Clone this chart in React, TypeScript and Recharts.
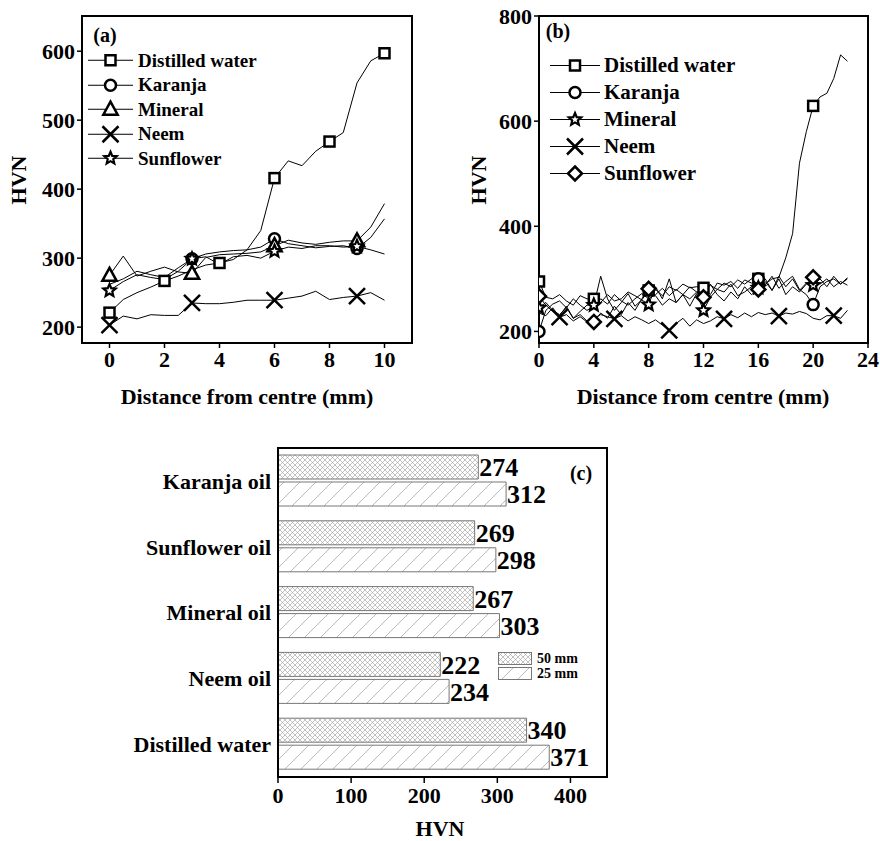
import React from "react";
import { LineChart, Line, XAxis, YAxis, BarChart, Bar, LabelList, Legend, ReferenceArea } from "recharts";

const FONT = "'Liberation Serif', 'Times New Roman', Times, serif";

// ---- panel (a): distance 0-10 mm ----
const xA = [0, 0.5, 1, 1.5, 2, 2.5, 3, 3.5, 4, 4.5, 5, 5.5, 6, 6.5, 7, 7.5, 8, 8.5, 9, 9.5, 10];
const distA = [221, 240, 250, 258, 267, 274, 283, 290, 293, 298, 312, 340, 416, 441, 434, 455, 469, 482, 554, 586, 597];
const karA = [262, 270, 281, 276, 272, 286, 299, 306, 309, 311, 312, 316, 328, 321, 318, 315, 317, 318, 314, 330, 357];
const minA = [275, 303, 274, 281, 287, 280, 278, 301, 305, 306, 307, 309, 318, 326, 322, 320, 323, 325, 325, 345, 379];
const neemA = [203, 216, 212, 218, 217, 217, 235, 234, 234, 236, 239, 239, 239, 242, 245, 252, 240, 243, 245, 250, 239];
const sunA = [253, 266, 276, 272, 269, 281, 299, 302, 291, 302, 304, 300, 310, 316, 314, 318, 318, 316, 317, 312, 306];
const distAMarks = [0, 2, 4, 6, 8, 10];
const karAMarks = [3, 6, 9];
const minAMarks = [0, 3, 6, 9];
const neemAMarks = [0, 3, 6, 9];
const sunAMarks = [0, 3, 6, 9];
const xTicksA = [0, 2, 4, 6, 8, 10];
const yTicksA = [200, 300, 400, 500, 600];

// ---- panel (b): distance 0-22.5 mm ----
const xB = [0, 0.5, 1, 1.5, 2, 2.5, 3, 3.5, 4, 4.5, 5, 5.5, 6, 6.5, 7, 7.5, 8, 8.5, 9, 9.5, 10, 10.5, 11, 11.5,
  12, 12.5, 13, 13.5, 14, 14.5, 15, 15.5, 16, 16.5, 17, 17.5, 18, 18.5, 19, 19.5, 20, 20.5, 21, 21.5, 22, 22.5];
const distB = [295, 265, 262, 270, 258, 250, 268, 262, 262, 255, 270, 258, 262, 275, 268, 260, 278, 280, 268, 285,
  278, 290, 283, 285, 283, 270, 292, 288, 295, 282, 298, 292, 300, 290, 300, 303, 340, 386, 520, 580,
  629, 646, 653, 681, 726, 714];
const karB = [200, 240, 252, 258, 245, 262, 250, 240, 248, 262, 252, 270, 258, 250, 262, 272, 262, 270, 282, 268,
  280, 270, 285, 275, 278, 288, 280, 292, 285, 298, 290, 300, 300, 288, 305, 282, 295, 305, 280, 270,
  251, 285, 295, 300, 290, 302];
const minB = [245, 255, 240, 232, 245, 225, 238, 250, 250, 305, 262, 240, 255, 272, 248, 260, 251, 285, 262, 300,
  255, 270, 248, 272, 240, 265, 280, 275, 290, 268, 275, 285, 283, 300, 278, 305, 285, 300, 278, 292,
  288, 300, 285, 305, 290, 300];
const neemB = [235, 230, 245, 227, 232, 220, 228, 218, 225, 232, 228, 224, 230, 220, 228, 222, 215, 222, 212, 202,
  215, 225, 210, 222, 215, 220, 228, 224, 232, 226, 235, 228, 236, 232, 235, 229, 235, 233, 238, 234,
  225, 222, 230, 230, 225, 240];
const sunB = [267, 250, 238, 230, 248, 225, 232, 220, 218, 235, 225, 248, 232, 255, 240, 262, 281, 268, 250, 262,
  255, 270, 262, 275, 265, 290, 270, 258, 275, 262, 285, 270, 280, 295, 278, 300, 270, 285, 275, 290,
  303, 290, 300, 285, 295, 288];
const distBMarks = [0, 4, 8, 12, 16, 20];
const karBMarks = [0, 16, 20];
const minBMarks = [0, 4, 8, 12, 16, 20];
const neemBMarks = [1.5, 5.5, 9.5, 13.5, 17.5, 21.5];
const sunBMarks = [0, 4, 8, 12, 16, 20];
const xTicksB = [0, 4, 8, 12, 16, 20, 24];
const yTicksB = [200, 400, 600, 800];

// ---- panel (c): bars ----
const oils = ["Karanja oil", "Sunflower oil", "Mineral oil", "Neem oil", "Distilled water"];
const hv50 = [274, 269, 267, 222, 340];
const hv25 = [312, 298, 303, 234, 371];
const xTicksC = [0, 100, 200, 300, 400];

const toPts = (xs: number[], ys: number[], marks: number[]) =>
  xs.map((x, i) => ({ x, y: ys[i], m: marks.includes(x) }));

const barData = oils.map((name, i) => ({ name, a: hv50[i], b: hv25[i] }));

function Marker({ shape, cx, cy, s }: { shape: string; cx: number; cy: number; s: number }) {
  const st = { fill: "#fff", stroke: "#000", strokeWidth: 2.5 };
  const h = s / 2;
  if (shape === "square") return <rect x={cx - h} y={cy - h} width={s} height={s} {...st} />;
  if (shape === "circle") return <circle cx={cx} cy={cy} r={h} {...st} />;
  if (shape === "triangle")
    return (
      <polygon
        points={`${cx},${cy - s * 0.58} ${cx - s * 0.55},${cy + s * 0.42} ${cx + s * 0.55},${cy + s * 0.42}`}
        {...st}
      />
    );
  if (shape === "diamond")
    return <polygon points={`${cx},${cy - h} ${cx + h},${cy} ${cx},${cy + h} ${cx - h},${cy}`} {...st} />;
  if (shape === "cross")
    return (
      <path
        d={`M${cx - h},${cy - h}L${cx + h},${cy + h}M${cx + h},${cy - h}L${cx - h},${cy + h}`}
        stroke="#000"
        strokeWidth={2.5}
        fill="none"
      />
    );
  // star
  const pts: string[] = [];
  for (let k = 0; k < 10; k++) {
    const a = ((-90 + k * 36) * Math.PI) / 180;
    const r = k % 2 === 0 ? h : h * 0.45;
    pts.push(`${cx + r * Math.cos(a)},${cy + r * Math.sin(a)}`);
  }
  return <polygon points={pts.join(" ")} {...st} strokeWidth={2.2} />;
}

const dotFor = (shape: string, s: number) => (p: any) => {
  if (!p.payload || !p.payload.m) return <g key={`e${p.index}`} />;
  return (
    <g key={`d${p.index}`}>
      <Marker shape={shape} cx={p.cx} cy={p.cy} s={s} />
    </g>
  );
};

type Item = { name: string; shape: string; s: number };

function LineLegend({ items, rowH, lineW, gap, fontSize }: { items: Item[]; rowH: number; lineW: number; gap: number; fontSize: number }) {
  return (
    <div style={{ fontFamily: FONT, fontWeight: 700, fontSize, color: "#000" }}>
      {items.map((it) => (
        <div key={it.name} style={{ display: "flex", alignItems: "center", height: rowH }}>
          <svg width={lineW} height={rowH} style={{ overflow: "visible" }}>
            <line x1={0} x2={lineW} y1={rowH / 2} y2={rowH / 2} stroke="#000" strokeWidth={1} />
            <Marker shape={it.shape} cx={lineW / 2} cy={rowH / 2} s={it.s} />
          </svg>
          <span style={{ marginLeft: gap, lineHeight: 1, whiteSpace: "nowrap" }}>{it.name}</span>
        </div>
      ))}
    </div>
  );
}

const legendA: Item[] = [
  { name: "Distilled water", shape: "square", s: 10 },
  { name: "Karanja", shape: "circle", s: 11 },
  { name: "Mineral", shape: "triangle", s: 13 },
  { name: "Neem", shape: "cross", s: 16 },
  { name: "Sunflower", shape: "star", s: 13 },
];
const legendB: Item[] = [
  { name: "Distilled water", shape: "square", s: 10 },
  { name: "Karanja", shape: "circle", s: 11 },
  { name: "Mineral", shape: "star", s: 13 },
  { name: "Neem", shape: "cross", s: 16 },
  { name: "Sunflower", shape: "diamond", s: 14 },
];

const tickStyle = { fill: "#000", fontFamily: FONT, fontWeight: 700, fontSize: 22 };
const axisLine = { stroke: "#000", strokeWidth: 2 };
const tickLine = { stroke: "#000", strokeWidth: 1.5 };

const txt = (left: number, top: number, s: string, size = 22, rotate = false) => (
  <div
    style={{
      position: "absolute",
      left,
      top,
      transform: `translate(-50%, -50%)${rotate ? " rotate(-90deg)" : ""}`,
      fontFamily: FONT,
      fontWeight: 700,
      fontSize: size,
      whiteSpace: "nowrap",
      lineHeight: 1,
      color: "#000",
    }}
  >
    {s}
  </div>
);

function PanelA() {
  const series = [
    { d: toPts(xA, distA, distAMarks), shape: "square", s: 10 },
    { d: toPts(xA, karA, karAMarks), shape: "circle", s: 11 },
    { d: toPts(xA, minA, minAMarks), shape: "triangle", s: 13 },
    { d: toPts(xA, neemA, neemAMarks), shape: "cross", s: 16 },
    { d: toPts(xA, sunA, sunAMarks), shape: "star", s: 13 },
  ];
  return (
    <div style={{ position: "absolute", left: 0, top: 0 }}>
      <LineChart width={440} height={420} margin={{ top: 16, right: 28, left: 0, bottom: 17 }}>
        <XAxis dataKey="x" type="number" domain={[-1, 11]} ticks={xTicksA} tick={tickStyle}
          axisLine={axisLine} tickLine={tickLine} tickSize={5} tickMargin={3} height={60} allowDataOverflow />
        <YAxis type="number" domain={[177, 651]} ticks={yTicksA} tick={tickStyle} axisLine={axisLine}
          tickLine={tickLine} tickSize={5} tickMargin={2} width={82} allowDataOverflow />
        <ReferenceArea x1={-1} x2={11} y1={177} y2={651} fill="none" stroke="#000" strokeWidth={2} ifOverflow="visible" />
        {series.map((sr, i) => (
          <Line key={i} data={sr.d} dataKey="y" type="linear" stroke="#000" strokeWidth={1}
            dot={dotFor(sr.shape, sr.s)} activeDot={false} isAnimationActive={false} />
        ))}
        <Legend layout="vertical" align="center" verticalAlign="middle"
          wrapperStyle={{ position: "absolute", left: 88, top: 48, width: 240 }}
          content={() => <LineLegend items={legendA} rowH={24.5} lineW={45} gap={5} fontSize={19} />} />
      </LineChart>
      {txt(105, 35, "(a)", 20)}
      {txt(247, 397, "Distance from centre (mm)")}
      {txt(19, 180, "HVN", 22, true)}
    </div>
  );
}

function PanelB() {
  const series = [
    { d: toPts(xB, distB, distBMarks), shape: "square", s: 10 },
    { d: toPts(xB, karB, karBMarks), shape: "circle", s: 11 },
    { d: toPts(xB, minB, minBMarks), shape: "star", s: 13 },
    { d: toPts(xB, neemB, neemBMarks), shape: "cross", s: 16 },
    { d: toPts(xB, sunB, sunBMarks), shape: "diamond", s: 14 },
  ];
  return (
    <div style={{ position: "absolute", left: 440, top: 0 }}>
      <LineChart width={440} height={420} margin={{ top: 16, right: 12, left: 0, bottom: 17 }}>
        <XAxis dataKey="x" type="number" domain={[0, 24]} ticks={xTicksB} tick={tickStyle}
          axisLine={axisLine} tickLine={tickLine} tickSize={5} tickMargin={3} height={60} allowDataOverflow />
        <YAxis type="number" domain={[178, 800]} ticks={yTicksB} tick={tickStyle} axisLine={axisLine}
          tickLine={tickLine} tickSize={5} tickMargin={2} width={99} allowDataOverflow />
        <ReferenceArea x1={0} x2={24} y1={178} y2={800} fill="none" stroke="#000" strokeWidth={2} ifOverflow="visible" />
        {series.map((sr, i) => (
          <Line key={i} data={sr.d} dataKey="y" type="linear" stroke="#000" strokeWidth={1}
            dot={dotFor(sr.shape, sr.s)} activeDot={false} isAnimationActive={false} />
        ))}
        <Legend layout="vertical" align="center" verticalAlign="middle"
          wrapperStyle={{ position: "absolute", left: 110, top: 51.5, width: 260 }}
          content={() => <LineLegend items={legendB} rowH={27} lineW={50} gap={4} fontSize={21} />} />
      </LineChart>
      {txt(118, 31, "(b)", 20)}
      {txt(263, 397, "Distance from centre (mm)")}
      {txt(39, 180, "HVN", 22, true)}
    </div>
  );
}

function BarLegend() {
  const rows = [
    { name: "50 mm", fill: "url(#xhatch)" },
    { name: "25 mm", fill: "url(#dhatch)" },
  ];
  return (
    <div style={{ fontFamily: FONT, fontWeight: 700, fontSize: 14, color: "#000" }}>
      {rows.map((r) => (
        <div key={r.name} style={{ display: "flex", alignItems: "center", height: 15 }}>
          <svg width={34} height={13}>
            <rect x={0.5} y={0.5} width={33} height={12} fill={r.fill} stroke="#777" strokeWidth={1} />
          </svg>
          <span style={{ marginLeft: 5, lineHeight: 1 }}>{r.name}</span>
        </div>
      ))}
    </div>
  );
}

function PanelC() {
  const lbl = { fill: "#000", fontFamily: FONT, fontWeight: 700, fontSize: 26 };
  return (
    <div style={{ position: "absolute", left: 0, top: 430 }}>
      <BarChart width={640} height={411} data={barData} layout="vertical" barSize={24} barGap={3}
        margin={{ top: 18, right: 33, left: 0, bottom: 24 }}>
        <defs>
          <pattern id="xhatch" width={5} height={5} patternUnits="userSpaceOnUse">
            <rect width={5} height={5} fill="#fff" />
            <path d="M0,0L5,5M5,0L0,5" stroke="#9a9a9a" strokeWidth={0.6} />
          </pattern>
          <pattern id="dhatch" width={16} height={16} patternUnits="userSpaceOnUse">
            <rect width={16} height={16} fill="#fff" />
            <path d="M0,16L16,0M-4,4L4,-4M12,20L20,12" stroke="#a8a8a8" strokeWidth={0.8} />
          </pattern>
        </defs>
        <XAxis type="number" domain={[0, 450]} ticks={xTicksC} tick={tickStyle} axisLine={axisLine}
          tickLine={tickLine} tickSize={6} tickMargin={4} height={40} />
        <YAxis type="category" dataKey="name" tick={tickStyle} axisLine={axisLine} tickLine={false}
          tickSize={0} tickMargin={7} width={278} />
        <ReferenceArea x1={0} x2={450} fill="none" stroke="#000" strokeWidth={2} ifOverflow="visible" />
        <Bar dataKey="a" name="50 mm" fill="url(#xhatch)" stroke="#777" strokeWidth={1} isAnimationActive={false}>
          <LabelList dataKey="a" position="right" offset={1} style={lbl} />
        </Bar>
        <Bar dataKey="b" name="25 mm" fill="url(#dhatch)" stroke="#777" strokeWidth={1} isAnimationActive={false}>
          <LabelList dataKey="b" position="right" offset={1} style={lbl} />
        </Bar>
        <Legend layout="vertical" align="center" verticalAlign="middle"
          wrapperStyle={{ position: "absolute", left: 498, top: 221, width: 100 }}
          content={() => <BarLegend />} />
      </BarChart>
      {txt(581, 43, "(c)", 20)}
      {txt(440, 399, "HVN")}
    </div>
  );
}

export default function App() {
  return (
    <div style={{ position: "absolute", left: 0, top: 0, width: 880, height: 841, background: "#fff" }}>
      <PanelA />
      <PanelB />
      <PanelC />
    </div>
  );
}
